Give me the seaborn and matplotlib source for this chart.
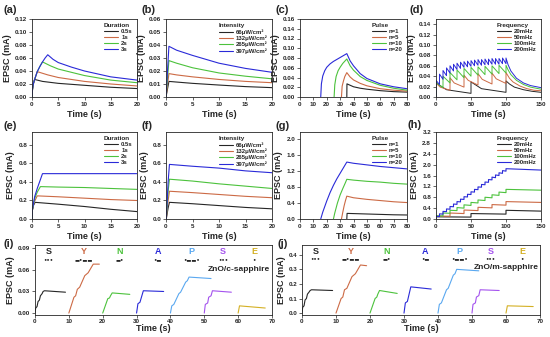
import matplotlib
matplotlib.use("Agg")
import matplotlib.pyplot as plt
import seaborn as sns

sns.set_style("ticks")
plt.rcParams["font.family"] = ["Liberation Sans", "DejaVu Sans"]
plt.rcParams["font.weight"] = "bold"
plt.rcParams["axes.labelweight"] = "bold"
plt.rcParams["axes.linewidth"] = 0.6

BLACK, ORANGE, GREEN, BLUE = "#262626", "#cc6a45", "#4cc23c", "#2a2ad8"
LBLUE, PURPLE, GOLD = "#5aa8f0", "#a452ee", "#d4b024"
colors4 = [BLACK, ORANGE, GREEN, BLUE]

# ---------------- (a) duration ----------------
a_labels = ["0.5s", "1s", "2s", "3s"]
a05_t = [0, 0.1, 0.25, 0.5, 2, 5, 10, 15, 20]
a05_y = [0, 0.012, 0.020, 0.027, 0.024, 0.021, 0.018, 0.015, 0.013]
a1_t = [0, 0.1, 0.25, 0.5, 1, 3, 5, 10, 15, 20]
a1_y = [0, 0.012, 0.020, 0.027, 0.039, 0.034, 0.030, 0.024, 0.020, 0.017]
a2_t = [0, 0.1, 0.25, 0.5, 1, 1.5, 2, 3.5, 5, 10, 15, 20]
a2_y = [0, 0.012, 0.020, 0.027, 0.039, 0.047, 0.054, 0.048, 0.043, 0.033, 0.026, 0.022]
a3_t = [0, 0.1, 0.25, 0.5, 1, 1.5, 2, 2.5, 3, 4, 5, 7.5, 10, 15, 20]
a3_y = [0, 0.012, 0.020, 0.027, 0.039, 0.047, 0.054, 0.060, 0.065, 0.058, 0.053, 0.046, 0.040, 0.031, 0.026]

# ---------------- (b) intensity ----------------
b_labels = ["66μW/cm²", "132μW/cm²", "265μW/cm²", "397μW/cm²"]
b_t = [0, 0.55, 2, 5, 10, 15, 20]
b66_y = [0, 0.012, 0.0115, 0.0105, 0.0092, 0.0080, 0.0072]
b132_y = [0, 0.018, 0.017, 0.0155, 0.0135, 0.012, 0.011]
b265_y = [0, 0.028, 0.026, 0.0225, 0.0185, 0.016, 0.014]
b397_y = [0, 0.039, 0.036, 0.032, 0.026, 0.022, 0.019]

# ---------------- (c) pulse number ----------------
c_labels = ["n=1", "n=5", "n=10", "n=20"]
c1_t = [35, 35.1, 40, 45, 50, 60, 70, 80]
c1_y = [0, 0.027, 0.021, 0.018, 0.016, 0.013, 0.011, 0.010]
c5_t = [31, 31.5, 32.5, 33.5, 35, 37.5, 40, 45, 50, 60, 70, 80]
c5_y = [0, 0.022, 0.033, 0.042, 0.050, 0.041, 0.035, 0.028, 0.023, 0.017, 0.014, 0.012]
c10_t = [25.5, 26, 27, 28.5, 30, 32, 35, 37.5, 40, 45, 50, 60, 70, 80]
c10_y = [0, 0.025, 0.042, 0.054, 0.061, 0.069, 0.078, 0.064, 0.055, 0.042, 0.034, 0.024, 0.018, 0.014]
c20_t = [15.5, 16, 17, 18.5, 20, 22.5, 25, 27.5, 30, 32.5, 35, 37.5, 40, 45, 50, 60, 70, 80]
c20_y = [0, 0.027, 0.043, 0.054, 0.061, 0.068, 0.073, 0.077, 0.081, 0.085, 0.089, 0.074, 0.064,
         0.048, 0.038, 0.027, 0.021, 0.017]

# ---------------- (d) frequency ----------------
d_labels = ["20mHz", "50mHz", "100mHz", "200mHz"]
p20 = [0, 50, 100]
d20_peak = [0.027, 0.029, 0.031]
d20_mid = [0.014, 0.016]
d20_low = [0.007, 0.009]
d20_tail_t = [105, 112, 125, 137, 150]
d20_tail_y = [0.025, 0.019, 0.014, 0.011, 0.009]
p50 = [0, 20, 40, 60, 80, 100]
d50_peak = [0.027, 0.037, 0.042, 0.045, 0.046, 0.047]
d50_mid = [0.019, 0.027, 0.032, 0.034, 0.035]
d50_low = [0.013, 0.019, 0.023, 0.025, 0.026]
d50_tail_t = [105, 110, 120, 130, 140, 150]
d50_tail_y = [0.036, 0.029, 0.021, 0.016, 0.013, 0.012]
p100 = [0, 10, 20, 30, 40, 50, 60, 70, 80, 90, 100]
d100_peak = [0.028, 0.040, 0.047, 0.052, 0.055, 0.057, 0.058, 0.059, 0.060, 0.061, 0.061]
d100_low = [0.018, 0.027, 0.033, 0.037, 0.040, 0.042, 0.043, 0.044, 0.045, 0.046]
d100_tail_t = [103, 107, 115, 125, 135, 150]
d100_tail_y = [0.052, 0.043, 0.032, 0.024, 0.019, 0.015]
p200 = [0, 5, 10, 15, 20, 25, 30, 35, 40, 45, 50, 55, 60, 65, 70, 75, 80, 85, 90, 95, 100]
d200_peak = [0.032, 0.044, 0.051, 0.056, 0.060, 0.063, 0.065, 0.067, 0.068, 0.069, 0.070,
             0.071, 0.072, 0.072, 0.073, 0.073, 0.074, 0.074, 0.074, 0.075, 0.075]
d200_low = [0.024, 0.034, 0.041, 0.046, 0.050, 0.053, 0.055, 0.057, 0.058, 0.059,
            0.060, 0.061, 0.061, 0.062, 0.062, 0.063, 0.063, 0.063, 0.064, 0.064]
d200_tail_t = [103, 107, 115, 125, 135, 150]
d200_tail_y = [0.062, 0.050, 0.036, 0.027, 0.022, 0.018]

# ---------------- (e) duration, persistent ----------------
e05_t = [0, 0.05, 0.3, 0.6, 5, 10, 15, 20]
e05_y = [0, 0.09, 0.15, 0.18, 0.16, 0.135, 0.105, 0.08]
e1_t = [0, 0.05, 0.4, 1.0, 5, 10, 15, 20]
e1_y = [0, 0.09, 0.18, 0.25, 0.24, 0.225, 0.21, 0.20]
e2_t = [0, 0.05, 0.5, 1.0, 1.6, 5, 10, 15, 20]
e2_y = [0, 0.09, 0.22, 0.29, 0.35, 0.345, 0.34, 0.33, 0.32]
e3_t = [0, 0.05, 0.5, 1.0, 1.5, 2.0, 20]
e3_y = [0, 0.09, 0.24, 0.33, 0.41, 0.49, 0.49]

# ---------------- (f) intensity, persistent ----------------
f_t = [0.05, 0.4, 0.65, 5, 10, 15, 20]
f66_y = [0, 0.12, 0.18, 0.165, 0.145, 0.125, 0.11]
f132_y = [0, 0.2, 0.30, 0.285, 0.265, 0.245, 0.23]
f265_y = [0, 0.3, 0.43, 0.41, 0.38, 0.355, 0.33]
f397_y = [0, 0.4, 0.59, 0.57, 0.55, 0.52, 0.50]

# ---------------- (g) pulse number, persistent ----------------
g1_t = [35, 35.2, 40, 50, 60, 70, 80]
g1_y = [0, 0.14, 0.135, 0.125, 0.115, 0.105, 0.10]
g5_t = [31, 32, 33, 34, 35, 40, 50, 60, 70, 80]
g5_y = [0, 0.17, 0.33, 0.46, 0.57, 0.53, 0.49, 0.46, 0.43, 0.41]
g10_t = [25, 26, 28, 30, 32, 34, 35, 40, 50, 60, 70, 80]
g10_y = [0, 0.15, 0.40, 0.60, 0.76, 0.91, 0.99, 0.97, 0.94, 0.92, 0.89, 0.87]
g20_t = [15.5, 17, 20, 22.5, 25, 27.5, 30, 32.5, 35, 40, 50, 60, 70, 80]
g20_y = [0, 0.17, 0.45, 0.66, 0.84, 1.0, 1.14, 1.28, 1.42, 1.39, 1.35, 1.31, 1.28, 1.25]

# ---------------- (h) frequency, persistent (staircases) ----------------
h20_peak = [0.08, 0.20, 0.32]
h20_low = [0.07, 0.18]
h50_peak = [0.11, 0.22, 0.33, 0.43, 0.53, 0.64]
h50_low = [0.10, 0.20, 0.31, 0.41, 0.51]
h100_peak = [0.12, 0.22, 0.32, 0.42, 0.52, 0.61, 0.70, 0.80, 0.89, 0.99, 1.09]
h100_low = [0.11, 0.21, 0.31, 0.40, 0.50, 0.59, 0.68, 0.78, 0.87, 0.97]
h200_peak = [0.10, 0.19, 0.28, 0.37, 0.46, 0.55, 0.64, 0.73, 0.82, 0.91, 1.00,
             1.09, 1.18, 1.27, 1.36, 1.45, 1.54, 1.62, 1.70, 1.78, 1.85]
h200_low = [0.09, 0.18, 0.27, 0.36, 0.45, 0.54, 0.63, 0.72, 0.81, 0.90,
            0.99, 1.08, 1.17, 1.26, 1.35, 1.44, 1.52, 1.60, 1.68, 1.76]
h_tail_t = [150]
h20_tail = [0.29]
h50_tail = [0.61]
h100_tail = [1.06]
h200_tail = [1.80]

# ---------------- (i), (j) Morse "SYNAPSE" ----------------
letters = ["S", "Y", "N", "A", "P", "S", "E"]
morse = ["•••", "▬•▬▬", "▬•", "•▬", "•▬▬•", "•••", "•"]
letter_x = [4, 14.3, 25, 36.3, 46.3, 55.5, 64.7]
letter_colors = [BLACK, ORANGE, GREEN, BLUE, LBLUE, PURPLE, GOLD]
s1_t = [0, 0.2, 0.6, 0.9, 1.3, 1.6, 2.1, 2.4, 2.8, 9]
y_t = [10, 11.5, 12, 12.5, 13.2, 14.7, 15.2, 15.7, 17.2, 19]
n_t = [20, 21.5, 22, 22.3, 22.8, 28]
a_t = [30, 30.4, 31, 32, 38]
p_t = [40, 40.4, 41, 42.5, 43, 44.5, 45, 45.5, 52]
s2_t = [50, 50.3, 51, 51.3, 52, 52.4, 58]
e_t = [60, 60.4, 68]
i_s1 = [0, 0.007, 0.009, 0.016, 0.018, 0.024, 0.027, 0.030, 0.031, 0.029]
i_y = [0, 0.022, 0.024, 0.033, 0.036, 0.052, 0.054, 0.056, 0.068, 0.068]
i_n = [0, 0.020, 0.021, 0.024, 0.028, 0.026]
i_a = [0, 0.013, 0.015, 0.031, 0.030]
i_p = [0, 0.010, 0.012, 0.027, 0.029, 0.043, 0.045, 0.050, 0.048]
i_s2 = [0, 0.012, 0.014, 0.022, 0.024, 0.031, 0.029]
i_e = [0, 0.010, 0.007]
j_s1 = [0, 0.04, 0.05, 0.09, 0.10, 0.13, 0.145, 0.155, 0.16, 0.155]
j_y = [0, 0.10, 0.11, 0.16, 0.17, 0.25, 0.26, 0.27, 0.33, 0.325]
j_n = [0, 0.10, 0.11, 0.13, 0.155, 0.135]
j_a = [0, 0.07, 0.08, 0.18, 0.165]
j_p = [0, 0.06, 0.07, 0.16, 0.17, 0.26, 0.27, 0.30, 0.29]
j_s2 = [0, 0.06, 0.07, 0.11, 0.12, 0.16, 0.155]
j_e = [0, 0.05, 0.045]


def pulse_train(pulses, peaks, lows, tail_t, tail_y, mids=None):
    t, y = [pulses[0]], [0.0]
    for i, p in enumerate(pulses):
        t.append(p)
        y.append(peaks[i])
        if i < len(lows):
            nxt = pulses[i + 1]
            if mids:
                t.append(p + (nxt - p) * 0.3)
                y.append(mids[i])
            t.append(nxt)
            y.append(lows[i])
    return t + tail_t, y + tail_y


W, H = 550, 337
fig = plt.figure(figsize=(W / 100, H / 100), dpi=100)


def add_ax(l, r, top, bottom):
    return fig.add_axes([l / W, 1 - bottom / H, (r - l) / W, (bottom - top) / H])


def draw(ax, series, labels, cols, lw=0.8):
    for (t, y), lab, c in zip(series, labels, cols):
        sns.lineplot(x=t, y=y, ax=ax, color=c, label=lab, estimator=None,
                     sort=False, linewidth=lw)


def style(ax, xlim, xticks, ylim, yticks, yfmt, xpad=2):
    ax.set_xlim(*xlim)
    ax.set_ylim(*ylim)
    ax.set_xticks(xticks)
    ax.set_yticks(yticks)
    ax.set_yticklabels([yfmt.format(v) for v in yticks])
    ax.tick_params(labelsize=4.5, length=2, width=0.5, pad=1.5)
    ax.set_xlabel("Time (s)", fontsize=6.5, labelpad=xpad)
    ax.set_ylabel("EPSC (mA)", fontsize=6.5, labelpad=2)
    for s in ax.spines.values():
        s.set_visible(True)


def legend(ax, title):
    leg = ax.legend(title=title, loc="upper right", frameon=False, fontsize=4.3,
                    title_fontsize=4.6, handlelength=2.4, handletextpad=0.5,
                    labelspacing=0.12, borderaxespad=0.3, alignment="left")
    for ln in leg.get_lines():
        ln.set_linewidth(0.8)


# row 1
ax = add_ax(32, 137, 19, 97)
draw(ax, [(a05_t, a05_y), (a1_t, a1_y), (a2_t, a2_y), (a3_t, a3_y)], a_labels, colors4)
style(ax, (0, 20), [0, 5, 10, 15, 20], (0, 0.12), [0, 0.02, 0.04, 0.06, 0.08, 0.10, 0.12], "{:.2f}")
legend(ax, "Duration")

ax = add_ax(166, 272, 19, 97)
draw(ax, [(b_t, b66_y), (b_t, b132_y), (b_t, b265_y), (b_t, b397_y)], b_labels, colors4)
style(ax, (0, 20), [0, 5, 10, 15, 20], (0, 0.06), [0, 0.01, 0.02, 0.03, 0.04, 0.05, 0.06], "{:.2f}")
legend(ax, "Intensity")

ax = add_ax(300, 407, 19, 97)
draw(ax, [(c1_t, c1_y), (c5_t, c5_y), (c10_t, c10_y), (c20_t, c20_y)], c_labels, colors4)
style(ax, (0, 80), list(range(0, 81, 10)), (0, 0.16),
      [0, 0.02, 0.04, 0.06, 0.08, 0.10, 0.12, 0.14, 0.16], "{:.2f}")
legend(ax, "Pulse")

ax = add_ax(436, 541, 19, 97)
d_series = [pulse_train(p20, d20_peak, d20_low, d20_tail_t, d20_tail_y, d20_mid),
            pulse_train(p50, d50_peak, d50_low, d50_tail_t, d50_tail_y, d50_mid),
            pulse_train(p100, d100_peak, d100_low, d100_tail_t, d100_tail_y),
            pulse_train(p200, d200_peak, d200_low, d200_tail_t, d200_tail_y)]
draw(ax, d_series, d_labels, colors4, lw=0.7)
style(ax, (0, 150), [0, 50, 100, 150], (0, 0.15),
      [0, 0.02, 0.04, 0.06, 0.08, 0.10, 0.12, 0.14], "{:.2f}")
legend(ax, "Frequency")

# row 2
ax = add_ax(32, 137, 132, 219)
draw(ax, [(e05_t, e05_y), (e1_t, e1_y), (e2_t, e2_y), (e3_t, e3_y)], a_labels, colors4)
style(ax, (0, 20), [0, 5, 10, 15, 20], (0, 0.94), [0, 0.2, 0.4, 0.6, 0.8], "{:.1f}")
legend(ax, "Duration")

ax = add_ax(166, 272, 132, 219)
draw(ax, [(f_t, f66_y), (f_t, f132_y), (f_t, f265_y), (f_t, f397_y)], b_labels, colors4)
style(ax, (0, 20), [0, 5, 10, 15, 20], (0, 0.94), [0, 0.2, 0.4, 0.6, 0.8], "{:.1f}")
legend(ax, "Intensity")

ax = add_ax(300, 407, 132, 219)
draw(ax, [(g1_t, g1_y), (g5_t, g5_y), (g10_t, g10_y), (g20_t, g20_y)], c_labels, colors4)
style(ax, (0, 80), list(range(0, 81, 10)), (0, 2.17), [0, 0.4, 0.8, 1.2, 1.6, 2.0], "{:.1f}")
legend(ax, "Pulse")

ax = add_ax(436, 541, 132, 219)
h_series = [pulse_train(p20, h20_peak, h20_low, h_tail_t, h20_tail),
            pulse_train(p50, h50_peak, h50_low, h_tail_t, h50_tail),
            pulse_train(p100, h100_peak, h100_low, h_tail_t, h100_tail),
            pulse_train(p200, h200_peak, h200_low, h_tail_t, h200_tail)]
draw(ax, h_series, d_labels, colors4)
style(ax, (0, 150), [0, 50, 100, 150], (0, 3.2),
      [0, 0.4, 0.8, 1.2, 1.6, 2.0, 2.4, 2.8, 3.2], "{:.1f}")
legend(ax, "Frequency")

# row 3
morse_t = [s1_t, y_t, n_t, a_t, p_t, s2_t, e_t]
for (l, r), vals, ylim, yticks, yfmt, sub, ytxt in [
        ((35, 272), [i_s1, i_y, i_n, i_a, i_p, i_s2, i_e], (-0.0027, 0.0946),
         [0, 0.03, 0.06, 0.09], "{:.2f}", "ZnO/c-sapphire", (0.085, 0.0745, 0.061)),
        ((302, 540), [j_s1, j_y, j_n, j_a, j_p, j_s2, j_e], (-0.013, 0.467),
         [0, 0.1, 0.2, 0.3, 0.4], "{:.1f}", "ZnO/m-sapphire", (0.42, 0.375, 0.313))]:
    ax = add_ax(l, r, 245, 315)
    draw(ax, list(zip(morse_t, vals)), [None] * 7, letter_colors)
    style(ax, (0, 70), list(range(0, 71, 10)), ylim, yticks, yfmt, xpad=0)
    ax.tick_params(axis="x", pad=1)
    if ax.get_legend():
        ax.get_legend().remove()
    for lx, let, code, c in zip(letter_x, letters, morse, letter_colors):
        ax.text(lx, ytxt[0], let, color=c, fontsize=6.5, ha="center", va="center")
        ax.text(lx, ytxt[1], code, color=BLACK, fontsize=3.8, ha="center", va="center",
                family=["DejaVu Sans"])
    ax.text(69.5, ytxt[2], sub, fontsize=6, ha="right", va="center")

# panel letters
for lab, x, y in [("(a)", 4, 10), ("(b)", 142, 10), ("(c)", 276, 10), ("(d)", 410, 10),
                  ("(e)", 4, 126), ("(f)", 142, 126), ("(g)", 276, 126), ("(h)", 408, 125),
                  ("(i)", 4, 244), ("(j)", 277, 244)]:
    fig.text(x / W, 1 - y / H, lab, fontsize=8, ha="left", va="center")

fig.savefig("out.png", dpi=100)
